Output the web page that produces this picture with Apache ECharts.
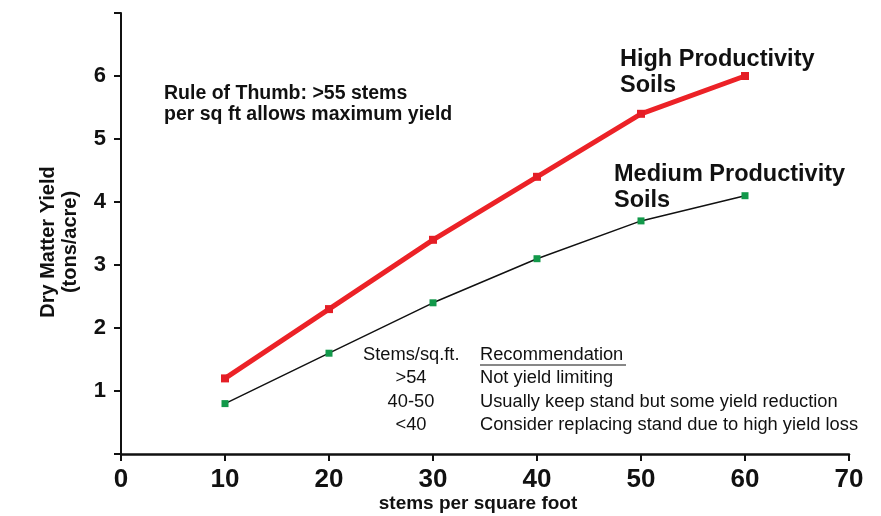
<!DOCTYPE html>
<html>
<head>
<meta charset="utf-8">
<script src="https://cdn.jsdelivr.net/npm/echarts@6/dist/echarts.min.js"></script>
<style>
  html, body { margin: 0; padding: 0; background: #fff; }
  #chart { width: 881px; height: 516px; }
</style>
</head>
<body>
<div id="chart"></div>
<script>
// Stand density (stems per square foot) vs. dry matter yield
const stems = [10, 20, 30, 40, 50, 60];
const highYield = [1.2, 2.3, 3.4, 4.4, 5.4, 6.0];
const mediumYield = [0.8, 1.6, 2.4, 3.1, 3.7, 4.1];

const xTicks = [0, 10, 20, 30, 40, 50, 60, 70];
const yTicks = [1, 2, 3, 4, 5, 6];

// Recommendation table
const tableHeader = ['Stems/sq.ft.', 'Recommendation'];
const tableStems = ['>54', '40-50', '<40'];
const tableAdvice = [
  'Not yield limiting',
  'Usually keep stand but some yield reduction',
  'Consider replacing stand due to high yield loss'
];

const pairs = (xs, ys) => xs.map((x, i) => [x, ys[i]]);

const font = '"Liberation Sans", Arial, Helvetica, sans-serif';
const ink = '#111';

const chart = echarts.init(document.getElementById('chart'));

const graphics = [];
function addText(text, x, y, opts) {
  graphics.push({
    type: 'text',
    left: x,
    top: y,
    style: Object.assign({ text: text, fill: ink, font: 'bold 19px ' + font }, opts || {})
  });
}

addText('Rule of Thumb: >55 stems\nper sq ft allows maximum yield', 164, 83,
  { font: 'bold 19.5px ' + font, lineHeight: 21 });
addText('High Productivity\nSoils', 620, 46,
  { font: 'bold 23.5px ' + font, lineHeight: 26.5 });
addText('Medium Productivity\nSoils', 614, 162,
  { font: 'bold 23.5px ' + font, lineHeight: 26 });

// axis titles
graphics.push({
  type: 'text',
  x: 59, y: 242,
  rotation: Math.PI / 2,
  style: {
    text: 'Dry Matter Yield\n(tons/acre)',
    fill: ink, font: 'bold 20px ' + font, lineHeight: 22,
    align: 'center', verticalAlign: 'middle'
  }
});
graphics.push({
  type: 'text',
  x: 478, y: 504,
  style: {
    text: 'stems per square foot',
    fill: ink, font: 'bold 19px ' + font,
    align: 'center', verticalAlign: 'middle'
  }
});

// table
const rowTop = 346, rowStep = 23.4;
const col1Center = 411, col2Left = 480;
const tableFont = '18.3px ' + font;
graphics.push({
  type: 'text', left: 363, top: rowTop,
  style: { text: tableHeader[0], fill: ink, font: tableFont }
});
graphics.push({
  type: 'text', left: col2Left, top: rowTop,
  style: { text: tableHeader[1], fill: ink, font: tableFont }
});
graphics.push({
  type: 'line',
  shape: { x1: col2Left, y1: rowTop + 19, x2: col2Left + 146, y2: rowTop + 19 },
  style: { stroke: ink, lineWidth: 1 }
});
tableStems.forEach((s, i) => {
  graphics.push({
    type: 'text',
    x: col1Center, y: rowTop + rowStep * (i + 1),
    style: { text: s, fill: ink, font: tableFont, align: 'center', verticalAlign: 'top' }
  });
  graphics.push({
    type: 'text',
    x: col2Left, y: rowTop + rowStep * (i + 1),
    style: { text: tableAdvice[i], fill: ink, font: tableFont, verticalAlign: 'top' }
  });
});

chart.setOption({
  animation: false,
  grid: { left: 121, right: 32, top: 13, bottom: 62, containLabel: false, outerBoundsMode: 'none' },
  xAxis: {
    type: 'value',
    min: 0, max: 70, interval: 10,
    axisLine: { show: true, lineStyle: { color: ink, width: 2.5 } },
    axisTick: { show: true, length: 7, lineStyle: { color: ink, width: 2 } },
    axisLabel: {
      margin: 13, color: ink, fontFamily: font, fontWeight: 'bold', fontSize: 26,
      formatter: v => (xTicks.indexOf(v) >= 0 ? String(v) : '')
    },
    splitLine: { show: false }
  },
  yAxis: {
    type: 'value',
    min: 0, max: 7, interval: 1,
    axisLine: { show: true, lineStyle: { color: ink, width: 2 } },
    axisTick: { show: true, length: 7, lineStyle: { color: ink, width: 2 } },
    axisLabel: {
      margin: 15, color: ink, fontFamily: font, fontWeight: 'bold', fontSize: 22,
      formatter: v => (yTicks.indexOf(v) >= 0 ? String(v) : '')
    },
    splitLine: { show: false }
  },
  series: [
    {
      name: 'High Productivity Soils',
      type: 'line',
      data: pairs(stems, highYield),
      symbol: 'rect',
      symbolSize: 8,
      lineStyle: { color: '#ec2227', width: 5 },
      itemStyle: { color: '#e41e26' },
      z: 3
    },
    {
      name: 'Medium Productivity Soils',
      type: 'line',
      data: pairs(stems, mediumYield),
      symbol: 'rect',
      symbolSize: 7,
      lineStyle: { color: ink, width: 1.5 },
      itemStyle: { color: '#12994a' },
      z: 2
    }
  ],
  graphic: graphics
});
</script>
</body>
</html>
